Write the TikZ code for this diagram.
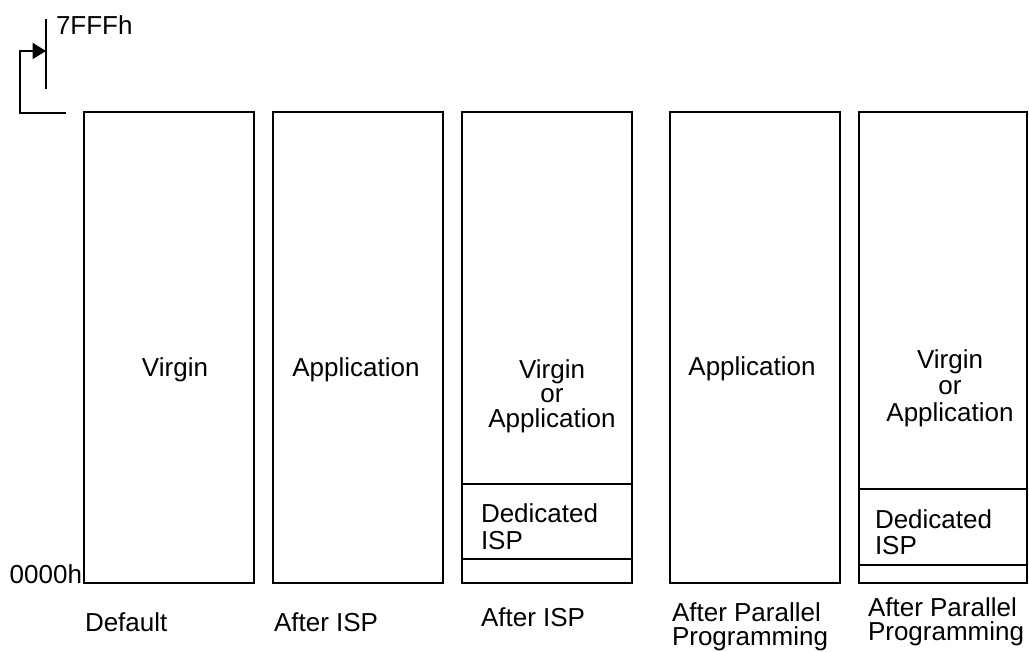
\documentclass[tikz,border=0pt]{standalone}
\usepackage{fontspec}
\setmainfont{Liberation Sans}
\usepackage{tikz}
\usetikzlibrary{arrows.meta,positioning}
\tikzset{
    mem/.style={rectangle, draw, line width=1pt, inner sep=0pt, outer sep=0pt, minimum width=127.5pt, minimum height=353.25pt},
    part/.style={rectangle, draw, line width=1pt, inner sep=0pt, outer sep=0pt, minimum width=127.5pt},
    arrow/.style={-{Triangle[length=10pt,width=12pt]}, line width=1pt}
}

\begin{document}
\begin{tikzpicture}[
    x=0.75pt, y=-0.75pt,
    txt/.style={inner sep=0pt, outer sep=0pt, font=\fontsize{19.5}{19.5}\selectfont},
    stack/.style={txt, align=center, anchor=north},
    note/.style={txt, align=left, anchor=north west}
]
\useasboundingbox (0,0) rectangle (1029,652);

% Memory maps
\node[mem, anchor=north west] (mem1) at (84,112) {};
\node[mem, right=14.25pt of mem1] (mem2) {};
\node[mem, right=14.25pt of mem2] (mem3) {};
\node[mem, right=28.5pt of mem3] (mem4) {};
\node[mem, right=14.25pt of mem4, minimum width=126pt] (mem5) {};

% Dedicated ISP areas
\node[part, minimum height=56.25pt, above=18pt of mem3.south] (ded3) {};
\node[part, minimum width=126pt, minimum height=57pt, above=13.5pt of mem5.south] (ded5) {};

% Contents
\node[txt, anchor=base] (virg1) at (175,377) {Virgin};
\node[txt, anchor=base] (app2) at (356,377) {Application};
\node[stack, font=\fontsize{19.5}{18.4}\selectfont] (both3) at (552,359.4) {Virgin\\or\\Application};
\node[txt, anchor=base] (app4) at (752,376) {Application};
\node[stack, font=\fontsize{19.5}{20}\selectfont] (both5) at (950,349.4) {Virgin\\or\\Application};
\node[note, font=\fontsize{19.5}{20}\selectfont] (isp3) at (481,504) {Dedicated\\ISP};
\node[note] (isp5) at (875,509.5) {Dedicated\\ISP};

% Captions
\node[txt, anchor=base west] (cap1) at (85,631) {Default};
\node[txt, anchor=base west] (cap2) at (274,631) {After ISP};
\node[txt, anchor=base west] (cap3) at (481,626) {After ISP};
\node[note, font=\fontsize{19.5}{17.5}\selectfont] (cap4) at (672,603) {After Parallel\\Programming};
\node[note, font=\fontsize{19.5}{17.5}\selectfont] (cap5) at (868,598) {After Parallel\\Programming};

% Addresses
\node[txt, anchor=base east] (lo) at (82,583) {0000h};
\node[txt, anchor=base west] (hi) at (56,35) {7FFFh};

% Arrows
\coordinate (tickT) at (46,19);
\coordinate (tickB) at (46,89);
\coordinate (tip) at (46,51);
\coordinate (bend) at (20,51);
\coordinate (brk) at (66,113);
\draw[line width=1pt] (tickT) -- (tickB);
\draw[arrow] (brk) -| (bend) -- (tip);

\end{tikzpicture}
\end{document}
